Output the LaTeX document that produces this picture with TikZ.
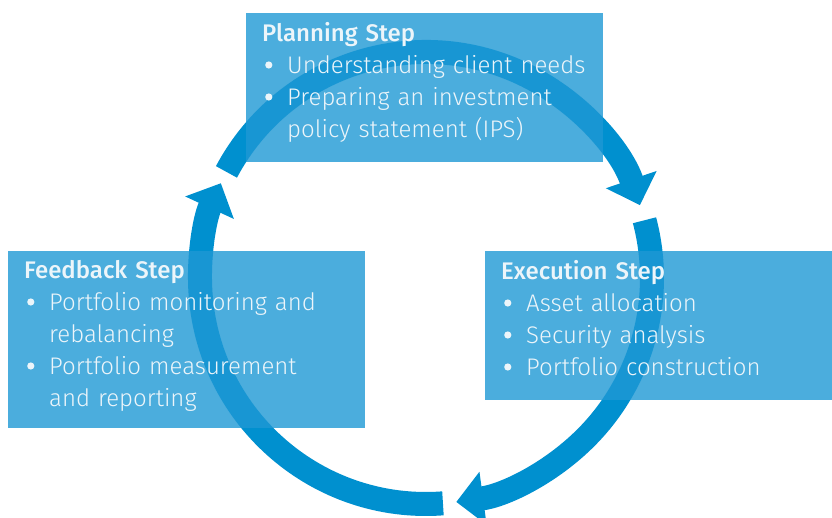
\documentclass[tikz,border=0pt]{standalone}
\usepackage{fontspec}
\setmainfont{Fira Sans Light}[BoldFont={Fira Sans Medium}]
\usetikzlibrary{arrows.meta,positioning}
\definecolor{ringblue}{RGB}{0,144,207}
\definecolor{boxblue}{RGB}{30,152,212}
\definecolor{textwhite}{RGB}{236,245,250}
\newcommand{\stepdot}{\tikz[baseline=-9pt]\fill[textwhite] (0,0) circle (3.6pt);}
\newcommand{\stepitem}[1]{\par\hangindent=25pt\hangafter=1\noindent
  \makebox[25pt][l]{\hspace{3pt}\stepdot}#1\par}

\begin{document}
\begin{tikzpicture}[x=1pt, y=1pt,
    ring/.style={draw=ringblue, line width=24pt, -{Triangle[width=52pt,length=27pt]}},
    stepbox/.style={fill=boxblue, fill opacity=0.8, draw=none, inner sep=0pt, anchor=north west},
    stepbody/.style={text=textwhite, inner sep=0pt, anchor=base west, text width=330pt,
      align=left, font=\fontsize{24}{32}\selectfont}]
  \useasboundingbox (0,0) rectangle (832,518);
  % Cycle
  \coordinate (ctr) at (426,240);
  \foreach \a/\b in {152/18.8, 14.8/-82.3, -85.7/-204.8}
    \draw[ring] (ctr) ++(\a:226pt) arc[start angle=\a, end angle=\b, radius=226pt];
  % Boxes
  \node[stepbox, minimum width=357pt, minimum height=149pt] (planbox) at (246,505) {};
  \node[stepbox, minimum width=357pt, minimum height=177pt] (feedbox) at (8,267) {};
  \node[stepbox, minimum width=347pt, minimum height=149pt] (execbox) at (485,267) {};
  % Texts
  \node[stepbody] (plantext) at (262,476) {\textbf{Planning Step}
    \stepitem{Understanding client needs}
    \stepitem{Preparing an investment\newline policy statement (IPS)}};
  \node[stepbody] (feedtext) at (24,239) {\textbf{Feedback Step}
    \stepitem{Portfolio monitoring and\newline rebalancing}
    \stepitem{Portfolio measurement\newline and reporting}};
  \node[stepbody] (exectext) at (501,238) {\textbf{Execution Step}
    \stepitem{Asset allocation}
    \stepitem{Security analysis}
    \stepitem{Portfolio construction}};
\end{tikzpicture}
\end{document}
